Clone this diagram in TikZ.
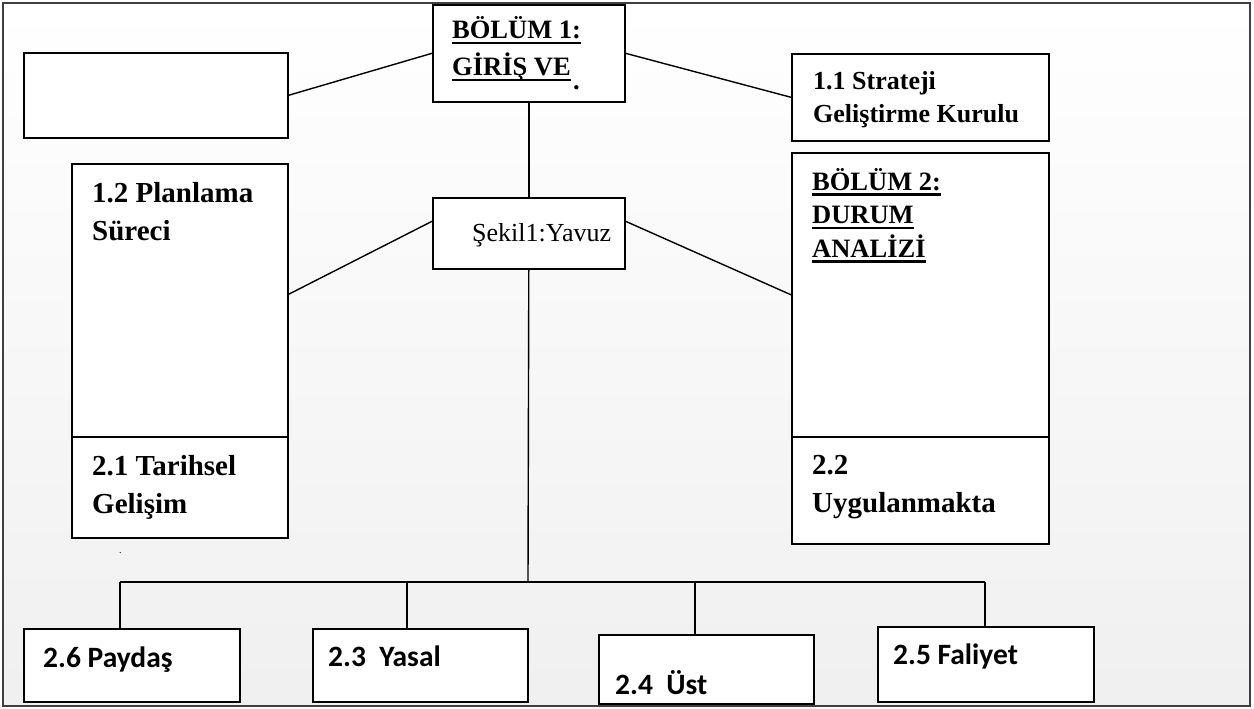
\documentclass[tikz,border=0pt]{standalone}
\usepackage{fontspec}
\setmainfont{Liberation Serif}
\newfontfamily\calfont{Carlito}
\usetikzlibrary{calc}
\newcommand\ulx[1]{\setbox0=\hbox{#1}\rlap{\rule[-5.5pt]{\wd0}{2.4pt}}\box0}
\newcommand\lns[1]{\begin{tabular}[t]{@{}l@{}}#1\end{tabular}}
\begin{document}
\begin{tikzpicture}[x=1pt,y=-1pt,
 box/.style={draw=black, line width=1.6pt, fill=white, inner sep=0pt, anchor=north west},
 conn/.style={line width=1.4pt},
 txt/.style={anchor=base west, inner sep=0pt, font=\bfseries},
 btxt/.style={anchor=base west, inner sep=0pt, font=\calfont\bfseries\fontsize{29.5}{34}\selectfont},
]
\useasboundingbox (0,0) rectangle (1254,709);
\shade[top color=white, bottom color=black!6] (3,3) rectangle (1250,706);
\draw[line width=2.2pt, black!75] (3,3) rectangle (1250,706);

% boxes
\node[box, minimum width=264pt, minimum height=85pt] (lt) at (23,52) {};
\node[box, minimum width=192pt, minimum height=97pt] (tb) at (432,4) {};
\node[box, minimum width=257pt, minimum height=87pt] (r11) at (791,53) {};
\node[box, minimum width=257pt, minimum height=284pt] (rb2) at (791,152) {};
\node[box, minimum width=257pt, minimum height=107pt] (r22) at (791,436) {};
\node[box, minimum width=216pt, minimum height=273pt] (lp) at (71,163) {};
\node[box, minimum width=216pt, minimum height=101pt] (l21) at (71,436) {};
\node[box, minimum width=192pt, minimum height=71pt] (sk) at (432,197) {};
\node[box, minimum width=216pt, minimum height=73pt] (b26) at (23,628) {};
\node[box, minimum width=215pt, minimum height=73pt] (b23) at (312,628) {};
\node[box, minimum width=215pt, minimum height=69pt] (b24) at (598,634) {};
\node[box, minimum width=216pt, minimum height=75pt] (b25) at (877,626) {};

% texts
\node[txt, font=\bfseries\fontsize{26.5}{37}\selectfont] (tbt) at (452,39) {\lns{\ulx{BÖLÜM 1:}\\ \ulx{GİRİŞ VE}}};
\node[txt, font=\bfseries\fontsize{26.5}{37}\selectfont] (tbdot) at (573,90) {.};
\node[txt, font=\bfseries\fontsize{26}{33}\selectfont] (r11t) at (813,89) {\lns{1.1 Strateji\\ Geliştirme Kurulu}};
\node[txt, font=\bfseries\fontsize{26.5}{33.5}\selectfont] (rb2t) at (812,190) {\lns{\ulx{BÖLÜM 2:}\\ \ulx{DURUM}\\ \ulx{ANALİZİ}}};
\node[txt, font=\bfseries\fontsize{29}{38}\selectfont] (lpt) at (92,202) {\lns{1.2 Planlama\\ Süreci}};
\node[txt, font=\bfseries\fontsize{29}{38}\selectfont] (l21t) at (92,475) {\lns{2.1 Tarihsel\\ Gelişim}};
\node[txt, font=\bfseries\fontsize{29}{38}\selectfont] (r22t) at (812,474) {\lns{2.2\\ Uygulanmakta}};
\node[anchor=base west, inner sep=0pt, font=\fontsize{26}{30}\selectfont] (skt) at (472,241) {Şekil1:Yavuz};
\node[txt, font=\fontsize{10}{10}\selectfont] (dot2) at (119,553) {.};

\node[btxt] (b26t) at (43,667) {2.6 Paydaş};
\node[btxt] (b23t) at (328,666) {2.3\ \ Yasal};
\node[btxt] (b24t) at (615,694) {2.4\ \ Üst};
\node[btxt] (b25t) at (893,664) {2.5 Faliyet};

% connectors
\draw[conn] (lt.east) -- (tb.west);
\draw[conn] (tb.east) -- (r11.west);
\draw[conn] (tb.south) -- (sk.north);
\draw[conn] ([yshift=12pt]sk.west) -- ([yshift=6pt]lp.east);
\draw[conn] ([yshift=12pt]sk.east) -- (rb2.west);
\coordinate (bar) at (528,582);
\coordinate (barl) at (120,582);
\coordinate (barr) at (985,582);
\draw[conn] (sk.south) -- (bar);
\draw[conn] (barl) -- (barr);
\draw[conn] (barl) -- (barl |- b26.north);
\coordinate (s23) at (407,582);
\coordinate (s24) at (695,582);
\draw[conn] (s23) -- (s23 |- b23.north);
\draw[conn] (s24) -- (s24 |- b24.north);
\draw[conn] (barr) -- (barr |- b25.north);
\end{tikzpicture}
\end{document}
